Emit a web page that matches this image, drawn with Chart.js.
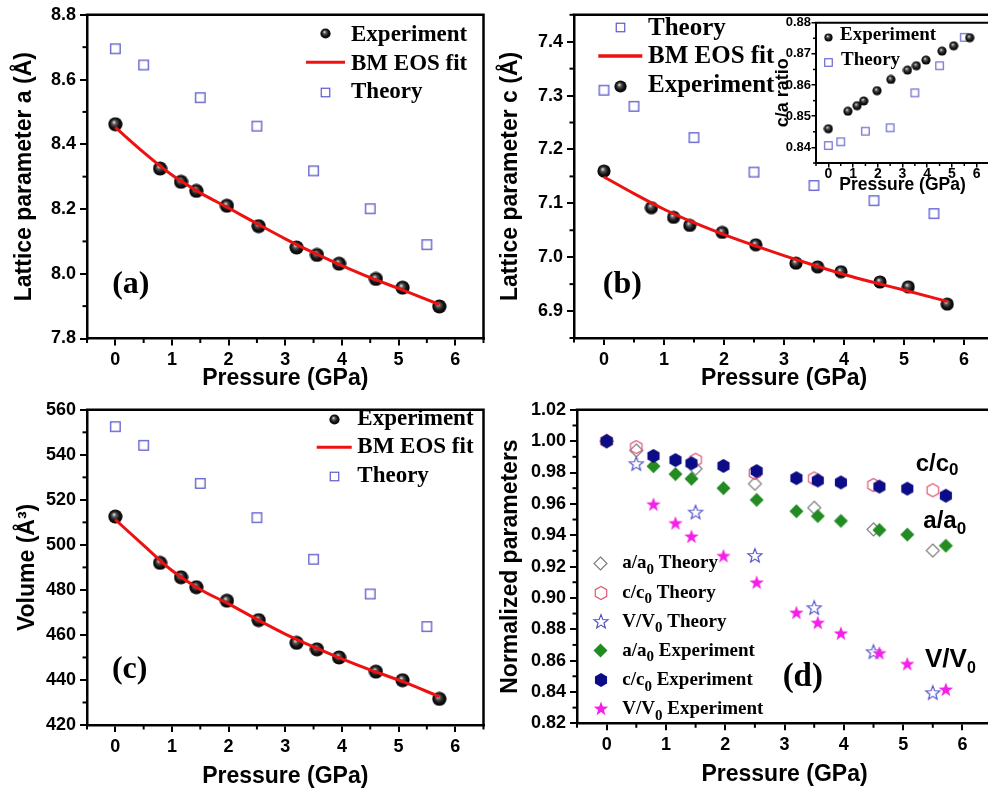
<!DOCTYPE html>
<html>
<head>
<meta charset="utf-8">
<title>Lattice parameters under pressure</title>
<script src="https://cdn.jsdelivr.net/npm/chart.js@4.4.1/dist/chart.umd.min.js"></script>
<style>
  html, body { margin: 0; padding: 0; background: #fff; }
  #wrap { position: relative; width: 988px; height: 791px; overflow: hidden; background: #fff; }
  #wrap canvas { position: absolute; }
</style>
</head>
<body>
<div id="wrap">
  <canvas id="panelA" width="494" height="395" style="left:0px;top:0px"></canvas>
  <canvas id="panelB" width="520" height="395" style="left:494px;top:0px"></canvas>
  <canvas id="panelBInset" width="240" height="200" style="left:760px;top:0px"></canvas>
  <canvas id="panelC" width="494" height="396" style="left:0px;top:395px"></canvas>
  <canvas id="panelD" width="520" height="396" style="left:494px;top:395px"></canvas>
</div>
<script>
// ---------------- data ----------------
const PRESSURE_EXP    = [0, 0.79, 1.16, 1.43, 1.97, 2.53, 3.20, 3.56, 3.95, 4.60, 5.07, 5.72];
const PRESSURE_THEORY = [0, 0.5, 1.5, 2.5, 3.5, 4.5, 5.5];
const PRESSURE_FIT    = [0, 0.5, 1.0, 1.5, 2.0, 2.5, 3.0, 3.5, 4.0, 4.5, 5.0, 5.72];

// lattice parameter a (Å)
const A_EXP    = [8.462, 8.325, 8.284, 8.256, 8.210, 8.147, 8.081, 8.058, 8.031, 7.984, 7.957, 7.899];
const A_THEORY = [8.695, 8.645, 8.544, 8.456, 8.318, 8.201, 8.090];
const A_FIT    = [8.452, 8.375, 8.305, 8.250, 8.203, 8.155, 8.108, 8.065, 8.025, 7.988, 7.955, 7.905];

// lattice parameter c (Å)
const C_EXP    = [7.160, 7.092, 7.074, 7.059, 7.046, 7.023, 6.989, 6.982, 6.973, 6.954, 6.945, 6.913];
const C_THEORY = [7.310, 7.280, 7.222, 7.158, 7.133, 7.105, 7.081];
const C_FIT    = [7.149, 7.118, 7.089, 7.064, 7.042, 7.022, 7.003, 6.985, 6.968, 6.953, 6.939, 6.918];

// c/a ratio
const CA_EXP    = [0.8460, 0.8516, 0.8534, 0.8549, 0.8582, 0.8618, 0.8648, 0.8662, 0.8680, 0.8709, 0.8726, 0.8752];
const CA_THEORY = [0.8406, 0.8418, 0.8452, 0.8463, 0.8575, 0.8662, 0.8753];

// cell volume (Å^3)
const V_EXP    = [512.6, 492.0, 485.6, 481.2, 475.2, 466.6, 456.5, 453.6, 450.0, 443.7, 439.9, 431.6];
const V_THEORY = [552.5, 544.2, 527.3, 512.1, 493.6, 478.2, 463.7];
const V_FIT    = [511.2, 499.8, 488.6, 480.2, 473.8, 466.9, 460.4, 454.7, 449.4, 444.5, 440.0, 432.6];

// normalized parameters
const AA0_THEORY = [1.000, 0.9941, 0.9824, 0.9728, 0.9575, 0.9437, 0.9302];
const CC0_THEORY = [1.000, 0.9962, 0.9881, 0.9797, 0.9762, 0.9720, 0.9687];
const VV0_THEORY = [null, 0.9853, 0.9544, 0.9267, 0.8934, 0.8653, 0.8392];
const AA0_EXP = [1.000, 0.9840, 0.9790, 0.9760, 0.9700, 0.9625, 0.9553, 0.9522, 0.9491, 0.9433, 0.9404, 0.9333];
const CC0_EXP = [1.000, 0.9906, 0.9879, 0.9859, 0.9842, 0.9809, 0.9764, 0.9749, 0.9737, 0.9710, 0.9697, 0.9652];
const VV0_EXP = [null, 0.9594, 0.9474, 0.9389, 0.9265, 0.9096, 0.8903, 0.8839, 0.8771, 0.8645, 0.8576, 0.8413];

// tick values
const P_TICKS  = [0, 1, 2, 3, 4, 5, 6];
const P_MINOR  = [-0.5, 0.5, 1.5, 2.5, 3.5, 4.5, 5.5, 6.5];
const A_TICKS  = [7.8, 8.0, 8.2, 8.4, 8.6, 8.8];
const A_MINOR  = [7.9, 8.1, 8.3, 8.5, 8.7];
const C_TICKS  = [6.9, 7.0, 7.1, 7.2, 7.3, 7.4];
const C_MINOR  = [6.85, 6.95, 7.05, 7.15, 7.25, 7.35, 7.45];
const CA_TICKS = [0.84, 0.85, 0.86, 0.87, 0.88];
const CA_MINOR = [0.835, 0.845, 0.855, 0.865, 0.875];
const V_TICKS  = [420, 440, 460, 480, 500, 520, 540, 560];
const V_MINOR  = [430, 450, 470, 490, 510, 530, 550];
const N_TICKS  = [0.82, 0.84, 0.86, 0.88, 0.90, 0.92, 0.94, 0.96, 0.98, 1.00, 1.02];
const N_MINOR  = [0.83, 0.85, 0.87, 0.89, 0.91, 0.93, 0.95, 0.97, 0.99, 1.01];

// ---------------- styling helpers ----------------
const SANS  = '"Liberation Sans", Arial, Helvetica, sans-serif';
const SERIF = '"Liberation Serif", "Times New Roman", Times, serif';
const serif = s => `bold ${s}px ${SERIF}`;
const sans  = s => `bold ${s}px ${SANS}`;
const TICK_FONT = 18;

const COL = {
  theory: '#5a5acd', fit: '#ee1111',
  green: '#228b22', navy: '#0c0c86', magenta: '#f520e8',
  grayOpen: '#7a7a7a', pinkOpen: '#e2587a', blueOpen: '#4b4bc8'
};

const pts = (xs, ys) => xs.map((x, i) => ({ x, y: ys[i] }));

function makeMarker(size, paint) {
  const c = document.createElement('canvas');
  c.width = size; c.height = size;
  const g = c.getContext('2d');
  paint(g, size / 2);
  return c;
}
function ball(d) {
  return makeMarker(d, (g, c) => {
    const grad = g.createRadialGradient(c * 0.8, c * 0.72, c * 0.05, c, c, c);
    grad.addColorStop(0, '#d8d8d8');
    grad.addColorStop(0.25, '#5a5a5a');
    grad.addColorStop(0.6, '#151515');
    grad.addColorStop(1, '#000');
    g.fillStyle = grad;
    g.beginPath(); g.arc(c, c, c - 0.4, 0, Math.PI * 2); g.fill();
  });
}
function polyPath(g, c, n, r, rInner, start) {
  g.beginPath();
  const steps = rInner ? n * 2 : n;
  for (let k = 0; k < steps; k++) {
    const ang = start + k * Math.PI * 2 / steps;
    const rad = rInner && (k % 2) ? rInner : r;
    const x = c + rad * Math.cos(ang), y = c + rad * Math.sin(ang);
    k ? g.lineTo(x, y) : g.moveTo(x, y);
  }
  g.closePath();
}
function shape(size, n, r, rInner, start, fill, stroke, lw) {
  return makeMarker(size, (g, c) => {
    polyPath(g, c, n, r, rInner, start);
    if (fill) { g.fillStyle = fill; g.fill(); }
    if (stroke) { g.strokeStyle = stroke; g.lineWidth = lw; g.stroke(); }
  });
}
function square(size, side, color, lw) {
  return makeMarker(size, (g, c) => {
    g.strokeStyle = color; g.lineWidth = lw;
    g.strokeRect(c - side / 2, c - side / 2, side, side);
  });
}

const UP = -Math.PI / 2;
const MK = {
  ball15: ball(15), ball14: ball(14), ball13: ball(13), ball11: ball(11), ball10: ball(10), ball9: ball(9),
  sq: square(13, 9.5, COL.theory, 1.3), sqLeg: square(11, 8.5, COL.theory, 1.2),
  sqInset: square(11, 7.5, COL.theory, 1.1),
  diaFill: shape(17, 4, 7, 0, UP, COL.green, null, 0),
  diaOpen: shape(17, 4, 6.5, 0, UP, null, COL.grayOpen, 1.1),
  hexFill: shape(16, 6, 7, 0, UP, COL.navy, null, 0),
  hexOpen: shape(16, 6, 6.6, 0, UP, null, COL.pinkOpen, 1.2),
  starFill: shape(18, 5, 7.6, 3.1, UP, COL.magenta, null, 0),
  starOpen: shape(18, 5, 7.4, 3.1, UP, null, COL.blueOpen, 1.1)
};

// ---------------- drawing helpers for legends and labels ----------------
function drawRich(ctx, x, y, parts, align) {
  let total = 0;
  const widths = parts.map(p => { ctx.font = p[1]; const w = ctx.measureText(p[0]).width; total += w; return w; });
  let cx = align === 'center' ? x - total / 2 : x;
  ctx.textBaseline = 'alphabetic';
  ctx.textAlign = 'left';
  ctx.fillStyle = '#000';
  parts.forEach((p, i) => { ctx.font = p[1]; ctx.fillText(p[0], cx, y + (p[2] || 0)); cx += widths[i]; });
}
function drawItem(ctx, it) {
  if (it.img) {
    ctx.drawImage(it.img, Math.round(it.x - it.img.width / 2), Math.round(it.y - it.img.height / 2));
  } else if (it.line) {
    ctx.strokeStyle = it.color; ctx.lineWidth = it.width; ctx.lineCap = 'butt';
    ctx.beginPath(); ctx.moveTo(it.x1, it.y); ctx.lineTo(it.x2, it.y); ctx.stroke();
  } else if (it.parts) {
    drawRich(ctx, it.x, it.y, it.parts, it.align);
  }
}

// frame on top/right, short minor ticks, legend entries and labels
function decor(cfg) {
  return {
    id: 'decor',
    afterDraw(chart) {
      const ctx = chart.ctx, ca = chart.chartArea;
      const xs = chart.scales.x, ys = chart.scales.y;
      ctx.save();
      ctx.strokeStyle = '#000';
      ctx.lineCap = 'square';
      ctx.lineWidth = cfg.frame;
      ctx.beginPath();
      ctx.moveTo(ca.left, ca.top); ctx.lineTo(ca.right, ca.top); ctx.lineTo(ca.right, ca.bottom);
      ctx.stroke();
      ctx.lineCap = 'butt';
      ctx.lineWidth = cfg.tickWidth;
      cfg.xMinor.forEach(v => {
        const px = xs.getPixelForValue(v);
        ctx.beginPath(); ctx.moveTo(px, ca.bottom); ctx.lineTo(px, ca.bottom + cfg.minorLen); ctx.stroke();
      });
      cfg.yMinor.forEach(v => {
        const py = ys.getPixelForValue(v);
        ctx.beginPath(); ctx.moveTo(ca.left, py); ctx.lineTo(ca.left - cfg.minorLen, py); ctx.stroke();
      });
      (cfg.items || []).forEach(it => drawItem(ctx, it));
      ctx.restore();
    }
  };
}

function axis(o) {
  return {
    type: 'linear',
    min: o.min, max: o.max,
    afterBuildTicks: s => { s.ticks = o.ticks.map(v => ({ value: v })); },
    afterFit: s => { if (o.vertical) s.width = o.size; else s.height = o.size; },
    ticks: {
      color: '#000', autoSkip: false, maxRotation: 0, padding: o.pad,
      font: { family: SANS, size: o.font, weight: 'bold' },
      callback: v => Number(v).toFixed(o.dec)
    },
    grid: { drawOnChartArea: false, drawTicks: true, tickLength: o.tickLen, color: '#000', lineWidth: o.tickWidth },
    border: { display: true, color: '#000', width: o.border },
    title: {
      display: true, text: o.title, color: '#000',
      font: { family: SANS, size: o.titleSize, weight: 'bold', lineHeight: 1.2 },
      padding: o.titlePad
    }
  };
}

function build(id, datasets, pad, xOpt, yOpt, deco) {
  return new Chart(document.getElementById(id), {
    type: 'scatter',
    data: { datasets },
    options: {
      responsive: false, animation: false, devicePixelRatio: 1, events: [],
      layout: { padding: pad },
      plugins: { legend: { display: false }, tooltip: { enabled: false } },
      scales: { x: axis(xOpt), y: axis(yOpt) }
    },
    plugins: [decor(deco)]
  });
}

const fitSet = (ys) => ({
  data: pts(PRESSURE_FIT, ys), showLine: true, pointRadius: 0,
  borderColor: COL.fit, borderWidth: 3, cubicInterpolationMode: 'monotone', fill: false
});
const imgSet = (xs, ys, img) => ({
  data: pts(xs, ys), pointStyle: img, pointRadius: 7, showLine: false
});

const pressureAxis = (size, titlePadBottom) => ({
  min: -0.5, max: 6.5, ticks: P_TICKS, dec: 0, size, font: TICK_FONT, pad: 4, tickLen: 7, tickWidth: 2, border: 2.5,
  title: 'Pressure (GPa)', titleSize: 23, titlePad: { top: 0, bottom: titlePadBottom }
});

// ---------------- (a) lattice parameter a ----------------
build('panelA',
  [fitSet(A_FIT), imgSet(PRESSURE_EXP, A_EXP, MK.ball15), imgSet(PRESSURE_THEORY, A_THEORY, MK.sq)],
  { top: 14, right: 10.5, bottom: 0, left: 0 },
  pressureAxis(56.5, 3),
  { vertical: true, min: 7.8, max: 8.8, ticks: A_TICKS, dec: 1, size: 87, font: TICK_FONT, pad: 4, tickLen: 7, tickWidth: 2, border: 2.5,
    title: 'Lattice parameter a (Å)', titleSize: 23, titlePad: { top: 11, bottom: 0 } },
  { frame: 2.5, tickWidth: 2, minorLen: 4.5, xMinor: P_MINOR, yMinor: A_MINOR, items: [
    { img: MK.ball11, x: 325, y: 33.3 },
    { parts: [['Experiment', serif(23)]], x: 351, y: 40.7 },
    { line: true, x1: 306, x2: 345, y: 62.3, color: COL.fit, width: 3 },
    { parts: [['BM EOS fit', serif(23)]], x: 351, y: 69.5 },
    { img: MK.sqLeg, x: 325, y: 92 },
    { parts: [['Theory', serif(23)]], x: 351, y: 97.7 },
    { parts: [['(a)', serif(32)]], x: 130.8, y: 293, align: 'center' }
  ] }
);

// ---------------- (b) lattice parameter c ----------------
build('panelB',
  [fitSet(C_FIT), imgSet(PRESSURE_EXP, C_EXP, MK.ball14), imgSet(PRESSURE_THEORY, C_THEORY, MK.sq)],
  { top: 13, right: 20, bottom: 0, left: 0 },
  pressureAxis(57, 3),
  { vertical: true, min: 6.85, max: 7.45, ticks: C_TICKS, dec: 1, size: 80, font: TICK_FONT, pad: 4, tickLen: 7, tickWidth: 2, border: 2.5,
    title: 'Lattice parameter c (Å)', titleSize: 23, titlePad: { top: 3, bottom: 0 } },
  { frame: 2.5, tickWidth: 2, minorLen: 4.5, xMinor: P_MINOR, yMinor: C_MINOR, items: [
    { img: MK.sqLeg, x: 126, y: 27.7 },
    { parts: [['Theory', serif(25)]], x: 154, y: 35 },
    { line: true, x1: 104.3, x2: 148.3, y: 56, color: COL.fit, width: 3.5 },
    { parts: [['BM EOS fit', serif(25)]], x: 154, y: 62.7 },
    { img: MK.ball13, x: 126, y: 86 },
    { parts: [['Experiment', serif(25)]], x: 154, y: 91.7 },
    { parts: [['(b)', serif(32)]], x: 128.3, y: 293, align: 'center' }
  ] }
);

// ---------------- (b) inset: c/a ratio ----------------
build('panelBInset',
  [imgSet(PRESSURE_EXP, CA_EXP, MK.ball10), imgSet(PRESSURE_THEORY, CA_THEORY, MK.sqInset)],
  { top: 22.7, right: 11, bottom: 0, left: 0 },
  { min: -0.5, max: 6.5, ticks: P_TICKS, dec: 0, size: 37, font: 14, pad: -1.5, tickLen: 4.5, tickWidth: 1.5, border: 2,
    title: 'Pressure (GPa)', titleSize: 17.5, titlePad: { top: 0, bottom: 4.5 } },
  { vertical: true, min: 0.835, max: 0.88, ticks: CA_TICKS, dec: 2, size: 56, font: 13, pad: 0.5, tickLen: 4.5, tickWidth: 1.5, border: 2,
    title: 'c/a ratio', titleSize: 18, titlePad: { top: 12.2, bottom: 0 } },
  { frame: 2, tickWidth: 1.5, minorLen: 3, xMinor: P_MINOR, yMinor: CA_MINOR, items: [
    { img: MK.ball9, x: 68.3, y: 37.7 },
    { parts: [['Experiment', serif(19)]], x: 80, y: 40 },
    { img: MK.sqInset, x: 68.3, y: 62.3 },
    { parts: [['Theory', serif(19)]], x: 81, y: 65 }
  ] }
);

// ---------------- (c) volume ----------------
build('panelC',
  [fitSet(V_FIT), imgSet(PRESSURE_EXP, V_EXP, MK.ball15), imgSet(PRESSURE_THEORY, V_THEORY, MK.sq)],
  { top: 6, right: 10.5, bottom: 0, left: 0 },
  pressureAxis(66, 0.5),
  { vertical: true, min: 420, max: 560, ticks: V_TICKS, dec: 0, size: 87, font: TICK_FONT, pad: 4, tickLen: 7, tickWidth: 2, border: 2.5,
    title: 'Volume (Å³)', titleSize: 23, titlePad: { top: 14.2, bottom: 0 } },
  { frame: 2.5, tickWidth: 2, minorLen: 4.5, xMinor: P_MINOR, yMinor: V_MINOR, items: [
    { img: MK.ball11, x: 334, y: 24 },
    { parts: [['Experiment', serif(23)]], x: 357.3, y: 30 },
    { line: true, x1: 316.7, x2: 351.7, y: 52.3, color: COL.fit, width: 3 },
    { parts: [['BM EOS fit', serif(23)]], x: 357.3, y: 58.3 },
    { img: MK.sqLeg, x: 334, y: 81.7 },
    { parts: [['Theory', serif(23)]], x: 357.3, y: 87 },
    { parts: [['(c)', serif(32)]], x: 129.7, y: 282.6, align: 'center' }
  ] }
);

// ---------------- (d) normalized parameters ----------------
const LEG_X = 106.7, LEG_TX = 128.3, LEG_Y0 = 173.3, LEG_DY = 29.2;
const legRow = (i, img, sym, label) => [
  { img, x: LEG_X, y: LEG_Y0 + i * LEG_DY - 5 },
  { parts: [[sym, serif(19)], ['0', serif(15), 5.5], [' ' + label, serif(19)]], x: LEG_TX, y: LEG_Y0 + i * LEG_DY }
];
build('panelD',
  [
    imgSet(PRESSURE_EXP, CC0_EXP, MK.hexFill),
    imgSet(PRESSURE_EXP, AA0_EXP, MK.diaFill),
    imgSet(PRESSURE_EXP, VV0_EXP, MK.starFill),
    imgSet(PRESSURE_THEORY, CC0_THEORY, MK.hexOpen),
    imgSet(PRESSURE_THEORY, AA0_THEORY, MK.diaOpen),
    imgSet(PRESSURE_THEORY, VV0_THEORY, MK.starOpen)
  ],
  { top: 6.5, right: 21.9, bottom: 0, left: 0 },
  pressureAxis(67.7, 2.2),
  { vertical: true, min: 0.82, max: 1.02, ticks: N_TICKS, dec: 2, size: 83, font: TICK_FONT, pad: 4, tickLen: 7, tickWidth: 2, border: 2.5,
    title: 'Normalized parameters', titleSize: 23, titlePad: { top: 2.9, bottom: 0 } },
  { frame: 2.5, tickWidth: 2, minorLen: 4.5, xMinor: P_MINOR, yMinor: N_MINOR, items: [
    ...legRow(0, MK.diaOpen, 'a/a', 'Theory'),
    ...legRow(1, MK.hexOpen, 'c/c', 'Theory'),
    ...legRow(2, MK.starOpen, 'V/V', 'Theory'),
    ...legRow(3, MK.diaFill, 'a/a', 'Experiment'),
    ...legRow(4, MK.hexFill, 'c/c', 'Experiment'),
    ...legRow(5, MK.starFill, 'V/V', 'Experiment'),
    { parts: [['c/c', sans(24)], ['0', sans(17), 4]], x: 421.7, y: 76 },
    { parts: [['a/a', sans(24)], ['0', sans(17), 6]], x: 429.3, y: 132.5 },
    { parts: [['V/V', sans(26)], ['0', sans(16), 6.5]], x: 431, y: 271.7 },
    { parts: [['(d)', serif(33)]], x: 308.8, y: 290.6, align: 'center' }
  ] }
);
</script>
</body>
</html>
